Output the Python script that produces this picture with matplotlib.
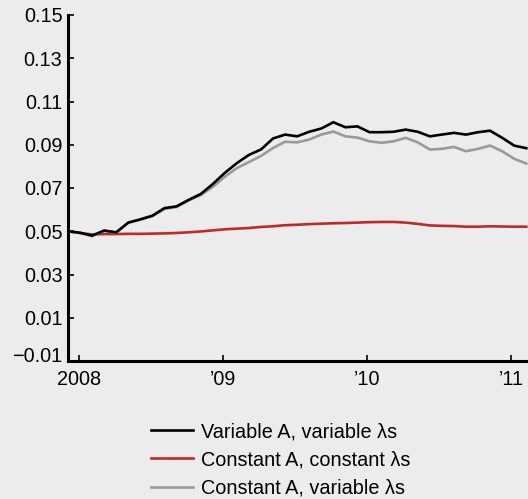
import matplotlib
matplotlib.use("Agg")
import matplotlib.pyplot as plt
import matplotlib.transforms as mtransforms
import numpy as np

plt.rcParams['font.family'] = ['Liberation Sans', 'DejaVu Sans']

# Monthly observations, Dec 2007 onward (month index 0 = Dec 2007)
months = list(range(39))
variable_A_variable_l = [0.0500, 0.0493, 0.0480, 0.0503, 0.0495, 0.0540, 0.0555, 0.0572,
                         0.0607, 0.0615, 0.0645, 0.0672, 0.0718, 0.0770, 0.0815, 0.0853,
                         0.0878, 0.0929, 0.0947, 0.0939, 0.0960, 0.0975, 0.1004, 0.0981,
                         0.0985, 0.0958, 0.0958, 0.0960, 0.0970, 0.0960, 0.0939, 0.0947,
                         0.0955, 0.0947, 0.0958, 0.0965, 0.0932, 0.0896, 0.0884]
constant_A_constant_l = [0.0500, 0.0492, 0.0485, 0.0487, 0.0487, 0.0488, 0.0488, 0.0489,
                         0.0490, 0.0492, 0.0495, 0.0499, 0.0504, 0.0509, 0.0512, 0.0515,
                         0.0520, 0.0523, 0.0528, 0.0530, 0.0533, 0.0535, 0.0537, 0.0538,
                         0.0540, 0.0542, 0.0543, 0.0543, 0.0540, 0.0534, 0.0527, 0.0525,
                         0.0524, 0.0521, 0.0521, 0.0523, 0.0522, 0.0521, 0.0521]
constant_A_variable_l = [0.0500, 0.0492, 0.0477, 0.0503, 0.0494, 0.0540, 0.0553, 0.0570,
                         0.0603, 0.0612, 0.0642, 0.0667, 0.0705, 0.0752, 0.0792, 0.0820,
                         0.0848, 0.0885, 0.0914, 0.0911, 0.0924, 0.0947, 0.0961, 0.0939,
                         0.0933, 0.0916, 0.0909, 0.0916, 0.0932, 0.0911, 0.0878, 0.0881,
                         0.0890, 0.0870, 0.0881, 0.0896, 0.0870, 0.0835, 0.0813]

series_labels = ["Variable A, variable λs", "Constant A, constant λs", "Constant A, variable λs"]
series_colors = ["#000000", "#c0282a", "#9a9a9a"]

# year starts, in month-index units
x_tick_pos = [0.92, 12.85, 24.8, 36.75]
x_tick_labels = ["2008", "\u201909", "\u201910", "\u201911"]
y_ticks = [-0.01, 0.01, 0.03, 0.05, 0.07, 0.09, 0.11, 0.13, 0.15]
y_tick_labels = ["\u22120.01", "0.01", "0.03", "0.05", "0.07", "0.09", "0.11", "0.13", "0.15"]

BG = "#ececec"
W, H = 528, 499
FS = 14.3
fig = plt.figure(figsize=(W / 100, H / 100), dpi=100, facecolor=BG)

left_px, right_px, top_px, bottom_px = 68, 528, 15, 361
ax = fig.add_axes([left_px / W, 1 - bottom_px / H, (right_px - left_px) / W, (bottom_px - top_px) / H])
ax.set_facecolor(BG)

data = [variable_A_variable_l, constant_A_constant_l, constant_A_variable_l]
order = [1, 2, 0]
lines = {}
for i in order:
    ln, = ax.plot(months, data[i], color=series_colors[i], lw=1.9,
                  solid_joinstyle='miter', label=series_labels[i], clip_on=True)
    lines[i] = ln

ax.set_xlim(0, (right_px - left_px) / 12.06)
ax.set_ylim(-0.01, 0.15)

for s in ['top', 'right']:
    ax.spines[s].set_visible(False)
for s in ['left', 'bottom']:
    ax.spines[s].set_linewidth(2.2)
    ax.spines[s].set_color('black')
    ax.spines[s].set_capstyle('projecting')

ax.set_xticks(x_tick_pos)
ax.set_xticklabels(x_tick_labels)
ax.set_yticks(y_ticks)
ax.set_yticklabels(y_tick_labels)
ax.tick_params(axis='both', direction='in', length=4, width=1.2, color='black',
               labelsize=FS, labelcolor='black')
ax.tick_params(axis='y', pad=4)
ax.tick_params(axis='x', pad=6.5)

# raise the bottom y label a little, as in the original
lab = ax.get_yticklabels()[0]
lab.set_transform(lab.get_transform() + mtransforms.ScaledTranslation(0, 7 / 100, fig.dpi_scale_trans))

handles = [lines[0], lines[1], lines[2]]
leg = fig.legend(handles, series_labels, loc='upper left',
                 bbox_to_anchor=(151 / W, 1 - 422 / H), frameon=False,
                 fontsize=FS, handlelength=2.1, handletextpad=0.42,
                 labelspacing=0.47, borderpad=0, borderaxespad=0)
for t in leg.get_texts():
    t.set_color('black')

fig.savefig("out.png", dpi=100, facecolor=BG)
